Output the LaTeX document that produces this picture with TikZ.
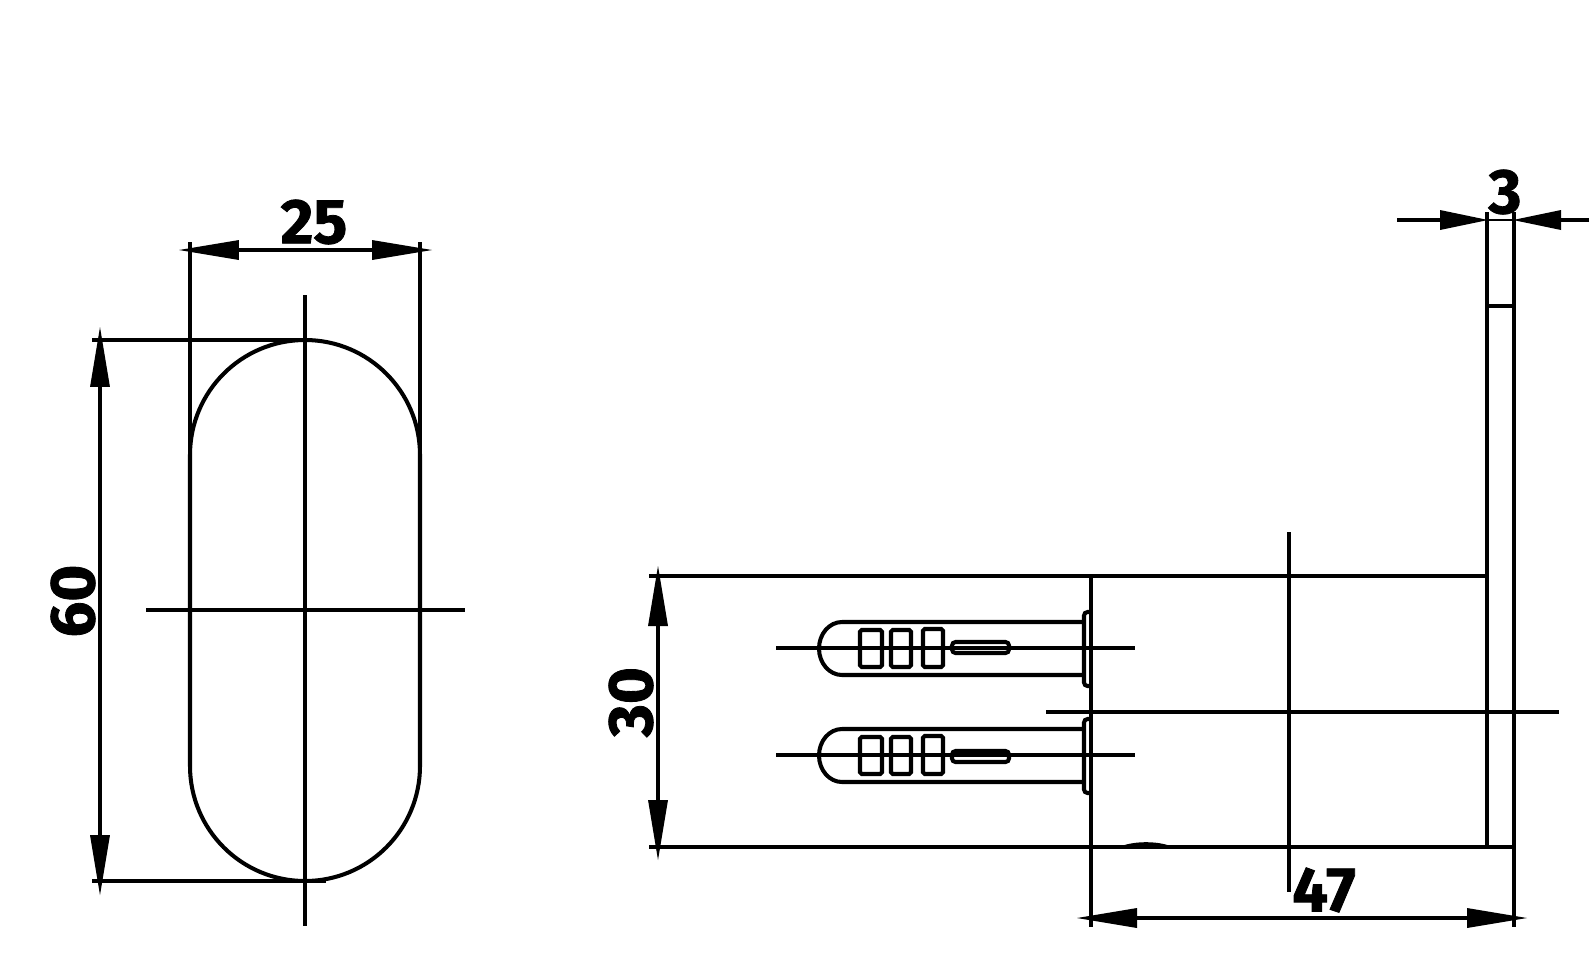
\documentclass[tikz,border=0pt]{standalone}
\usepackage{fontspec}
\setmainfont{Fira Sans}[BoldFeatures={FakeBold=1.3}]
\usetikzlibrary{arrows.meta}
\tikzset{
  part/.style={line width=2.3pt},
  plug/.style={line width=2.3pt},
  dimarrow/.style={line width=2.3pt,{Triangle[length=1.2cm,width=0.4cm,line width=0pt]}-{Triangle[length=1.2cm,width=0.4cm,line width=0pt]}},
  dimlabel/.style={font=\fontsize{36}{36}\selectfont\bfseries,inner sep=0pt},
}
\begin{document}
\begin{tikzpicture}[x=0.02cm,y=-0.02cm]
      \useasboundingbox (0,0) rectangle (1595,961);
      % oval, front view
      \draw[part] (190,455) arc (180:360:115 and 115) -- (420,766)
        arc (0:180:115 and 115) -- cycle;
      \draw[part] (190,242) -- (190,455);
      \draw[part] (420,242) -- (420,455);
      \draw[part] (92,340) -- (305,340);
      \draw[part] (92,881) -- (326,881);
      \draw[part] (305,295) -- (305,926);
      \draw[part] (146,610) -- (465,610);
      \coordinate (w0) at (179,250);
      \coordinate (w1) at (432,250);
      \coordinate (h0) at (100,327);
      \coordinate (h1) at (100,895);
      \draw[dimarrow] (w0) -- (w1);
      \draw[dimarrow] (h0) -- (h1);
      \node[dimlabel] (l25) at (314,222) {25};
      \node[dimlabel,rotate=90] (l60) at (73,601) {60};
      % side view
      \draw[part] (649,576) -- (1487,576);
      \draw[part] (649,847) -- (1514,847);
      \draw[part] (1091,576) -- (1091,927);
      \draw[part] (1487,212) -- (1487,847);
      \draw[part] (1514,212) -- (1514,927);
      \draw[part] (1487,306) -- (1514,306);
      \draw[part] (1289,532) -- (1289,892);
      \draw[part] (1046,712) -- (1559,712);
      \draw[line width=1.2pt,fill] (1122,847) .. controls (1135,842) and (1157,842) .. (1170,847) -- cycle;
      \foreach \py/\pn in {648/642,755/751} {
        \draw[plug] (1083,\py-26) -- (842,\py-26) arc (270:90:23 and 26.5) -- (1083,\py+27);
        \draw[part] (776,\py) -- (1135,\py);
        \draw[plug,rounded corners=1pt] (860,\py-18) rectangle (882,\py+19);
        \draw[plug,rounded corners=1pt] (891,\py-18) rectangle (911,\py+19);
        \draw[plug,rounded corners=1pt] (923,\py-19) rectangle (943,\py+19);
        \draw[plug,rounded corners=2pt] (952,\pn) rectangle (1009,\pn+11);
        \draw[plug,rounded corners=2pt] (1090,\py-36) -- (1084,\py-36) -- (1084,\py+38) -- (1090,\py+38);
      }
      \coordinate (a0) at (658,566);
      \coordinate (a1) at (658,860);
      \coordinate (b0) at (1077,918);
      \coordinate (b1) at (1527,918);
      \coordinate (c0) at (1397,220);
      \coordinate (c1) at (1488,220);
      \coordinate (c2) at (1589,220);
      \coordinate (c3) at (1513,220);
      \draw[dimarrow] (a0) -- (a1);
      \draw[dimarrow] (b0) -- (b1);
      \draw[line width=2.3pt,-{Triangle[length=0.96cm,width=0.4cm,line width=0pt]}] (c0) -- (c1);
      \draw[line width=2.3pt,-{Triangle[length=0.96cm,width=0.4cm,line width=0pt]}] (c2) -- (c3);
      \draw[line width=0.6pt] (c1) -- (c3);
      \node[dimlabel,rotate=90] (l30) at (631,702) {30};
      \node[dimlabel] (l47) at (1324,890) {47};
      \node[dimlabel] (l3) at (1505,192) {3};
    \end{tikzpicture}
\end{document}
